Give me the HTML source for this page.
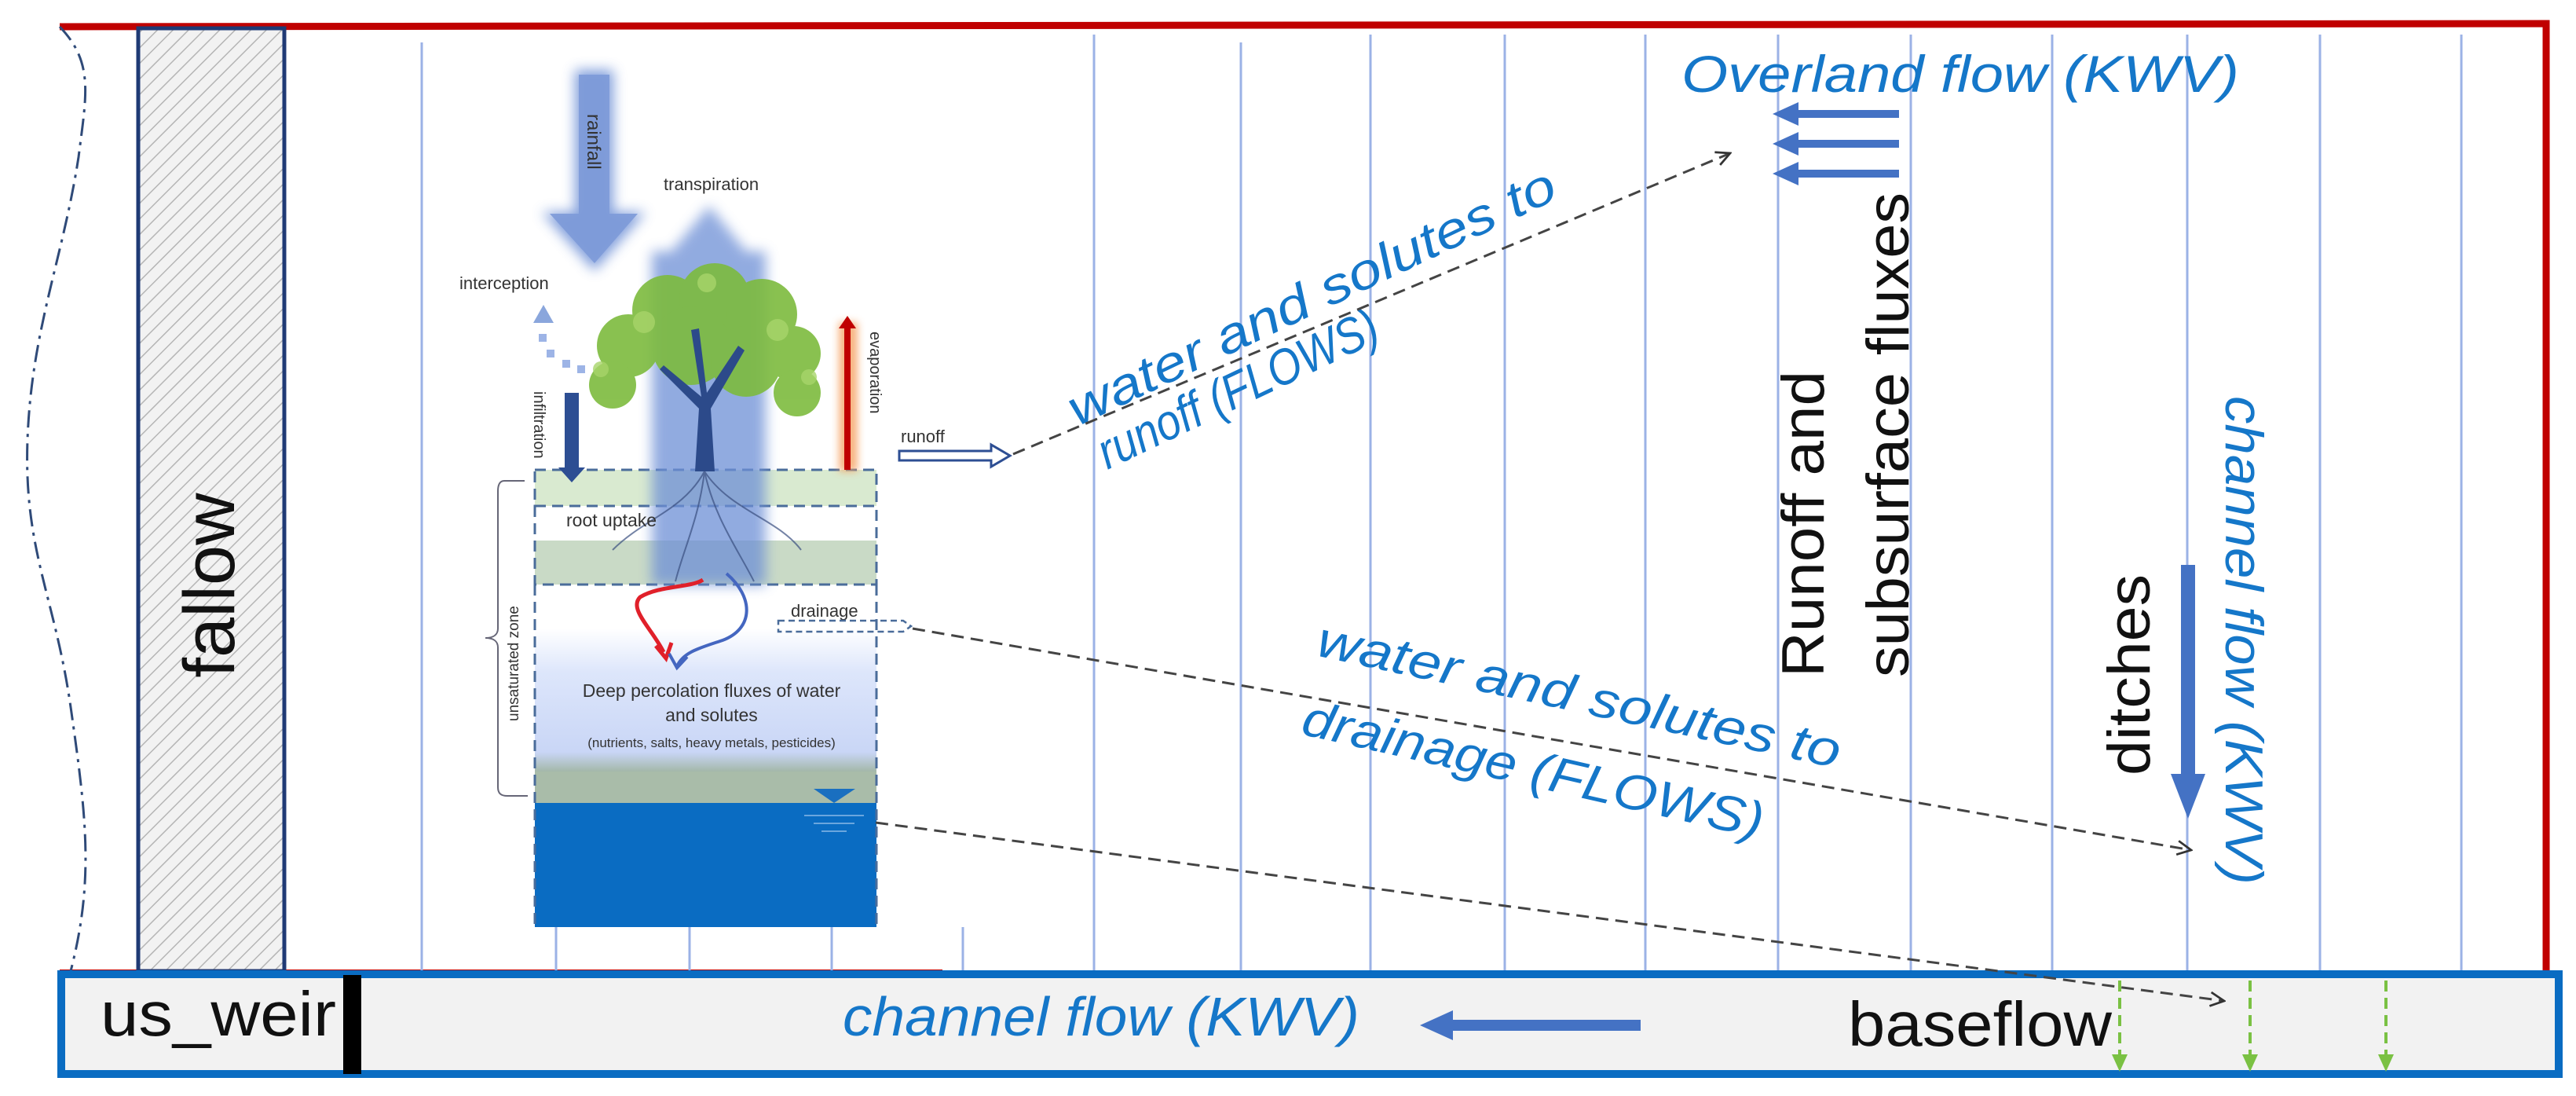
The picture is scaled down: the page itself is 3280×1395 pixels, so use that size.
<!DOCTYPE html>
<html><head><meta charset="utf-8"><style>
html,body{margin:0;padding:0;background:#fff}
svg{display:block}
text{font-family:"Liberation Sans",sans-serif}
.it{font-style:italic;fill:#1577c9}
</style></head><body>
<svg width="3280" height="1395" viewBox="0 0 3280 1395" xmlns="http://www.w3.org/2000/svg">
<defs>
<pattern id="hatch" width="14" height="14" patternUnits="userSpaceOnUse" patternTransform="rotate(45)">
<rect width="14" height="14" fill="#f2f2f2"/><line x1="0" y1="0" x2="0" y2="14" stroke="#b5b5b5" stroke-width="3"/>
</pattern>
<filter id="blur" x="-30%" y="-30%" width="160%" height="160%"><feGaussianBlur stdDeviation="8"/></filter>
<filter id="blur2" x="-50%" y="-50%" width="200%" height="200%"><feGaussianBlur stdDeviation="5"/></filter>
<linearGradient id="perc" x1="0" y1="0" x2="0" y2="1">
<stop offset="0" stop-color="#ffffff"/><stop offset="0.3" stop-color="#dde6fb"/><stop offset="0.85" stop-color="#c9d6f6"/><stop offset="1" stop-color="#9fb4a0"/>
</linearGradient>
<marker id="open" viewBox="0 0 20 20" refX="18" refY="10" markerWidth="22" markerHeight="22" markerUnits="userSpaceOnUse" orient="auto">
<path d="M2,2 L18,10 L2,18" fill="none" stroke="#333" stroke-width="2.5"/>
</marker>
</defs>

<!-- red outer frame -->
<polyline points="76,34 3242,30 3242,1240" fill="none" stroke="#c00000" stroke-width="9"/>
<line x1="76" y1="1236" x2="1200" y2="1236" stroke="#c00000" stroke-width="4"/>
<path d="M76,34 C120,80 110,120 100,200 C80,330 40,420 35,560 C30,700 70,760 90,900 C110,1040 120,1120 90,1236" fill="none" stroke="#2f4a78" stroke-width="3" stroke-dasharray="22,8,4,8"/>

<g stroke="#9bb2e6" stroke-width="3">
<line x1="537" y1="54" x2="537" y2="1236"/><line x1="708" y1="44" x2="708" y2="1236"/>
<line x1="878" y1="44" x2="878" y2="1236"/><line x1="1059" y1="44" x2="1059" y2="1236"/>
<line x1="1226" y1="44" x2="1226" y2="1236"/><line x1="1393" y1="44" x2="1393" y2="1236"/>
<line x1="1580" y1="54" x2="1580" y2="1236"/><line x1="1745" y1="44" x2="1745" y2="1236"/>
<line x1="1916" y1="44" x2="1916" y2="1236"/><line x1="2095" y1="44" x2="2095" y2="1236"/>
<line x1="2264" y1="44" x2="2264" y2="1236"/><line x1="2433" y1="44" x2="2433" y2="1236"/>
<line x1="2613" y1="44" x2="2613" y2="1236"/><line x1="2785" y1="44" x2="2785" y2="1236"/>
<line x1="2954" y1="44" x2="2954" y2="1236"/><line x1="3134" y1="44" x2="3134" y2="1236"/>
</g>

<rect x="176" y="36" width="186" height="1200" fill="url(#hatch)" stroke="#1f3a75" stroke-width="5"/>
<text transform="translate(298,745) rotate(-90)" text-anchor="middle" font-size="92" fill="#111">fallow</text>

<rect x="570" y="40" width="725" height="1140" fill="#fff"/>
<rect x="681" y="598" width="435" height="46" fill="#d9ead0"/>
<rect x="681" y="688" width="435" height="56" fill="#c9dac6"/>
<rect x="681" y="800" width="435" height="185" fill="url(#perc)"/>
<rect x="681" y="982" width="435" height="40" fill="#a9bca9"/>
<rect x="681" y="1022" width="435" height="158" fill="#0a6cc2"/>
<g fill="none" stroke="#4a6c9a" stroke-width="3" stroke-dasharray="14,8">
<rect x="681" y="598" width="435" height="46"/>
<rect x="681" y="644" width="435" height="100"/>
<line x1="681" y1="744" x2="681" y2="1180"/><line x1="1116" y1="744" x2="1116" y2="1180"/>
</g>
<path d="M1036,1004 L1089,1004 L1062,1022 Z" fill="#1a6fc0"/>
<g stroke="#6aa6de" stroke-width="2"><line x1="1024" y1="1038" x2="1100" y2="1038"/><line x1="1036" y1="1048" x2="1088" y2="1048"/><line x1="1046" y1="1058" x2="1078" y2="1058"/></g>

<g filter="url(#blur)" opacity="0.85">
<path d="M732,89 L781,89 L781,270 L822,270 L757,345 L690,270 L732,270 Z" fill="#6d8fd6"/>
</g>
<path d="M737,95 L776,95 L776,272 L812,272 L757,335 L700,272 L737,272 Z" fill="#7d9ad8" opacity="0.9"/>
<text transform="translate(748,145) rotate(90)" font-size="24" fill="#333">rainfall</text>

<g filter="url(#blur)" opacity="0.75">
<path d="M830,745 L830,320 L855,320 L903,262 L950,320 L975,320 L975,745 Z" fill="#6d8fd6"/>
</g>
<text x="845" y="242" font-size="22" fill="#333">transpiration</text>

<g>
<g fill="#7dbb3e" opacity="0.9">
<circle cx="800" cy="440" r="40"/><circle cx="850" cy="395" r="45"/><circle cx="910" cy="380" r="45"/><circle cx="970" cy="400" r="45"/><circle cx="1010" cy="450" r="35"/>
<circle cx="780" cy="490" r="30"/><circle cx="1015" cy="500" r="30"/><circle cx="880" cy="440" r="50"/><circle cx="950" cy="460" r="45"/>
</g>
<g fill="#a8d46a" opacity="0.8"><circle cx="820" cy="410" r="14"/><circle cx="990" cy="420" r="14"/><circle cx="900" cy="360" r="12"/><circle cx="1030" cy="480" r="10"/><circle cx="765" cy="470" r="10"/></g>
<path d="M885,600 L890,520 L840,470 L845,465 L893,505 L880,420 L890,418 L900,500 L940,440 L948,446 L905,520 L910,600 Z" fill="#2c4a8a"/>
<g stroke="#3a4f80" stroke-width="2" fill="none" opacity="0.7">
<path d="M897,600 C870,650 820,660 780,700"/><path d="M897,600 C930,650 990,660 1020,700"/><path d="M897,600 C890,660 870,700 860,740"/><path d="M897,600 C910,660 940,700 960,740"/>
</g>
</g>

<text x="585" y="368" font-size="22" fill="#333">interception</text>
<path d="M692,388 L705,411 L679,411 Z" fill="#8aa6dc"/>
<g fill="#9db4e6"><rect x="686" y="425" width="10" height="10"/><rect x="696" y="445" width="10" height="10"/><rect x="716" y="458" width="10" height="10"/><rect x="735" y="465" width="10" height="10"/></g>
<path d="M719,500 L737,500 L737,595 L745,595 L728,614 L711,595 L719,595 Z" fill="#2d4e93"/>
<text transform="translate(680,498) rotate(90)" font-size="20" fill="#333">infiltration</text>
<rect x="1068" y="410" width="24" height="190" fill="#f5a060" filter="url(#blur2)" opacity="0.8"/>
<path d="M1075,598 L1075,418 L1068,418 L1079,402 L1090,418 L1083,418 L1083,598 Z" fill="#c00000"/>
<text transform="translate(1108,422) rotate(90)" font-size="20" fill="#333">evaporation</text>
<text x="1147" y="563" font-size="22" fill="#333">runoff</text>
<path d="M1145,574 L1262,574 L1262,566 L1286,580 L1262,594 L1262,586 L1145,586 Z" fill="#fff" stroke="#2d4e93" stroke-width="3"/>
<text x="721" y="670" font-size="23" fill="#333">root uptake</text>
<text x="1007" y="785" font-size="22" fill="#333">drainage</text>
<path d="M991,790 L1150,790 L1160,797 L1150,804 L991,804 Z" fill="none" stroke="#4a6c9a" stroke-width="2.5" stroke-dasharray="8,5"/>
<path d="M895,738 C880,748 840,745 815,760 C800,775 830,800 845,830" fill="none" stroke="#e0202a" stroke-width="5"/>
<path d="M835,822 L848,838 L855,818" fill="none" stroke="#e0202a" stroke-width="5"/>
<path d="M925,730 C960,760 960,800 920,815 C890,825 870,830 862,848" fill="none" stroke="#4466c0" stroke-width="4"/>
<path d="M852,832 L862,850 L875,836" fill="none" stroke="#4466c0" stroke-width="4"/>
<path d="M668,612 L642,612 C636,612 634,618 634,625 L634,800 C634,808 628,812 618,812 C628,812 634,816 634,824 L634,1002 C634,1010 638,1013 646,1013 L672,1013" fill="none" stroke="#667" stroke-width="2"/>
<text transform="translate(660,918) rotate(-90)" font-size="19" fill="#333">unsaturated zone</text>
<text x="906" y="887" font-size="23" fill="#333" text-anchor="middle">Deep percolation fluxes of water</text>
<text x="906" y="918" font-size="23" fill="#333" text-anchor="middle">and solutes</text>
<text x="906" y="951" font-size="17" fill="#333" text-anchor="middle">(nutrients, salts, heavy metals, pesticides)</text>

<!-- overland flow -->
<text x="2141" y="117" font-size="66" class="it" textLength="710" lengthAdjust="spacingAndGlyphs">Overland flow  (KWV)</text>
<g fill="#4472c4">
<path d="M2418,140 L2290,140 L2290,130 L2257,145 L2290,160 L2290,150 L2418,150 Z"/>
<path d="M2418,178 L2290,178 L2290,168 L2257,183 L2290,198 L2290,188 L2418,188 Z"/>
<path d="M2418,216 L2290,216 L2290,206 L2257,221 L2290,236 L2290,226 L2418,226 Z"/>
</g>

<g transform="translate(1372,543) rotate(-25.4)"><text class="it" font-size="64" textLength="680" lengthAdjust="spacingAndGlyphs">water and solutes to</text></g>
<g transform="translate(1410,598) rotate(-25.4)"><text class="it" font-size="64" textLength="388" lengthAdjust="spacingAndGlyphs">runoff (FLOWS)</text></g>
<g transform="translate(1674,834) rotate(12.2)"><text class="it" font-size="64" textLength="680" lengthAdjust="spacingAndGlyphs">water and solutes to</text></g>
<g transform="translate(1655,934) rotate(12.8)"><text class="it" font-size="64" textLength="600" lengthAdjust="spacingAndGlyphs">drainage (FLOWS)</text></g>

<text transform="translate(2322,862) rotate(-90)" font-size="76" fill="#111" textLength="390" lengthAdjust="spacingAndGlyphs">Runoff and</text>
<text transform="translate(2430,862) rotate(-90)" font-size="76" fill="#111" textLength="617" lengthAdjust="spacingAndGlyphs">subsurface fluxes</text>
<text transform="translate(2737,987) rotate(-90)" font-size="76" fill="#111" textLength="256" lengthAdjust="spacingAndGlyphs">ditches</text>
<path d="M2777,719 L2795,719 L2795,985 L2808,985 L2786,1042 L2764,985 L2777,985 Z" fill="#4472c4"/>
<text transform="translate(2834,504) rotate(90)" class="it" font-size="68" textLength="622" lengthAdjust="spacingAndGlyphs">channel flow (KWV)</text>

<!-- bottom channel -->
<rect x="78" y="1240" width="3180" height="127" fill="#f2f2f2" stroke="#0a6cc2" stroke-width="10"/>
<text x="128" y="1318" font-size="80" fill="#111" textLength="300" lengthAdjust="spacingAndGlyphs">us_weir</text>
<rect x="437" y="1241" width="23" height="126" fill="#000"/>
<text x="1073" y="1318" class="it" font-size="70" textLength="658" lengthAdjust="spacingAndGlyphs">channel flow (KWV)</text>
<path d="M2089,1298 L1850,1298 L1850,1286 L1808,1305 L1850,1324 L1850,1312 L2089,1312 Z" fill="#4472c4"/>
<text x="2353" y="1331" font-size="80" fill="#111" textLength="336" lengthAdjust="spacingAndGlyphs">baseflow</text>
<g stroke="#7ac143" stroke-width="4" stroke-dasharray="14,8">
<line x1="2699" y1="1248" x2="2699" y2="1345"/><line x1="2865" y1="1248" x2="2865" y2="1345"/><line x1="3038" y1="1248" x2="3038" y2="1345"/>
</g>
<g fill="#7ac143">
<path d="M2689,1342 L2709,1342 L2699,1364 Z"/><path d="M2855,1342 L2875,1342 L2865,1364 Z"/><path d="M3028,1342 L3048,1342 L3038,1364 Z"/>
</g>

<!-- dashed connectors (on top) -->
<g fill="none" stroke="#444" stroke-width="3" stroke-dasharray="16,9">
<line x1="1290" y1="578" x2="2203" y2="195" marker-end="url(#open)"/>
<line x1="1162" y1="800" x2="2790" y2="1082" marker-end="url(#open)"/>
<line x1="1115" y1="1047" x2="2832" y2="1274" marker-end="url(#open)"/>
</g>
</svg>
</body></html>
